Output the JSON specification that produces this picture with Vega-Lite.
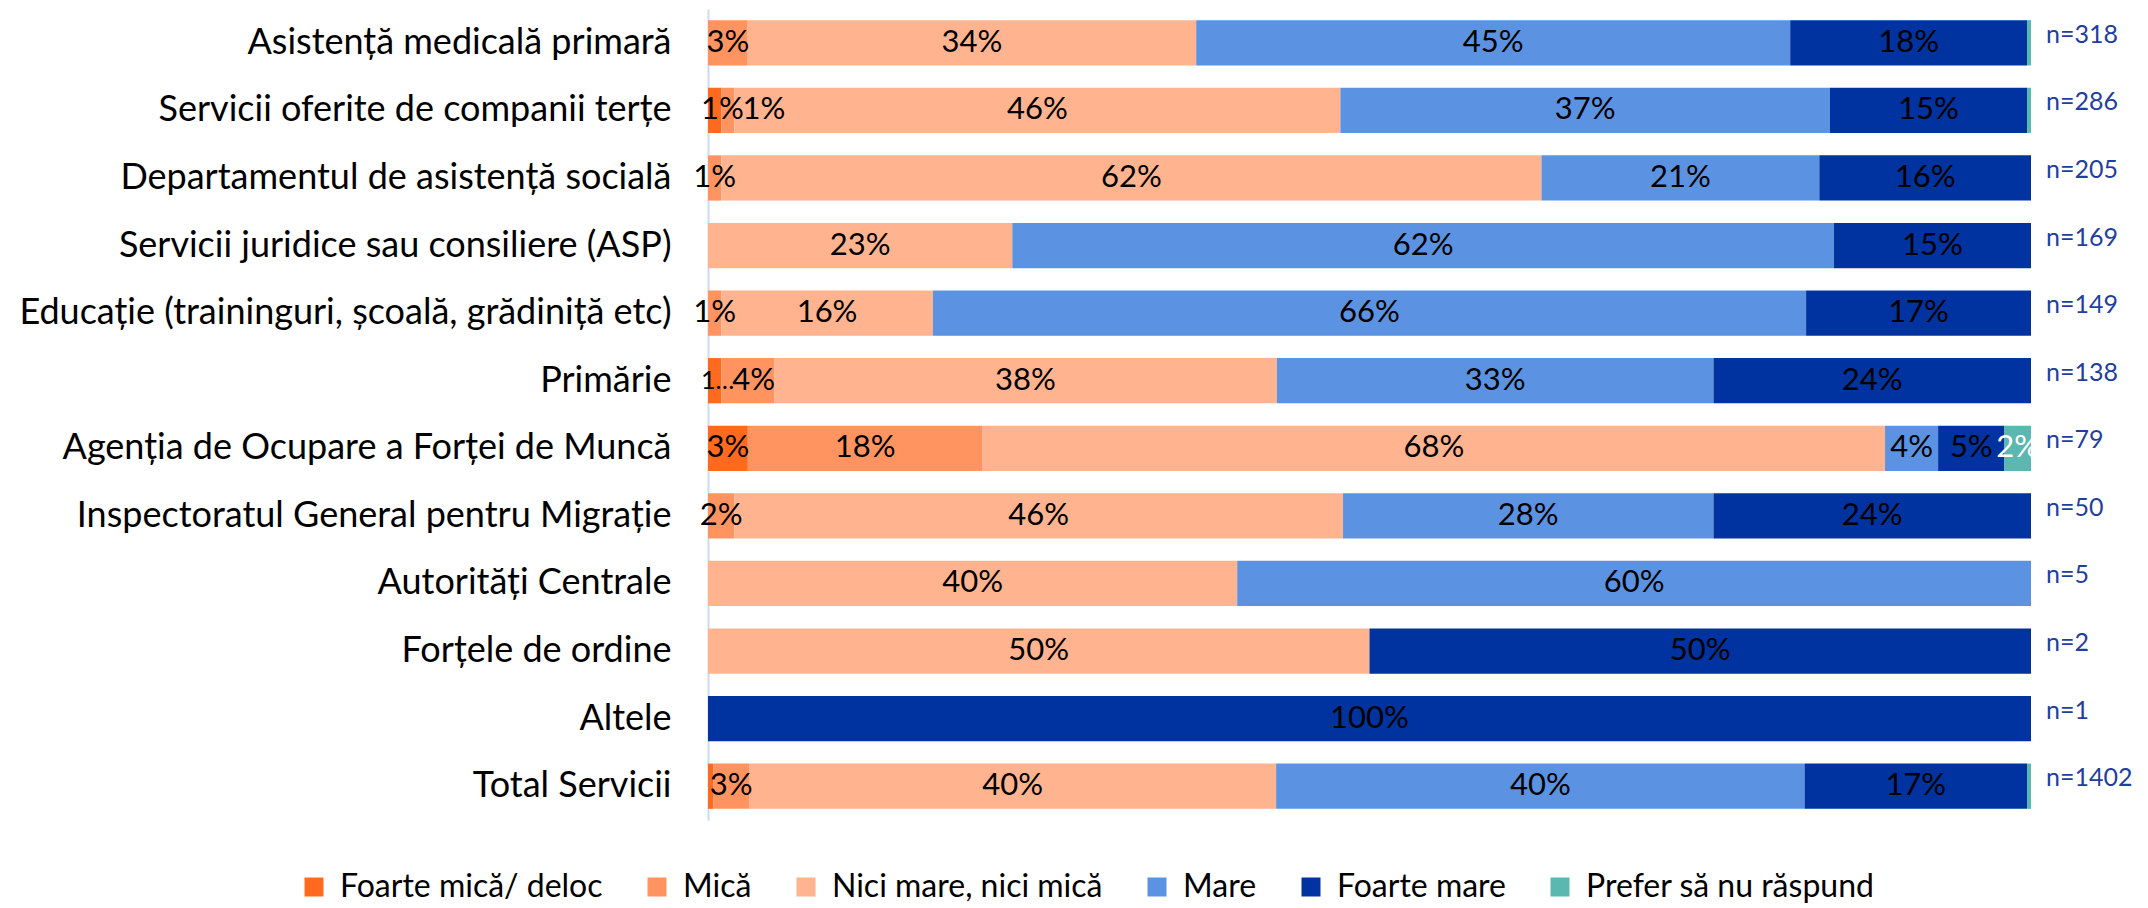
{
  "$schema": "https://vega.github.io/schema/vega-lite/v6.json",
  "width": 1323,
  "height": 811,
  "autosize": {"type": "none"},
  "padding": {"left": 708, "top": 9, "right": 117, "bottom": 88},
  "config": {
    "view": {"stroke": null},
    "font": "Lato",
    "text": {"font": "Lato"}
  },
  "datasets": {
    "bars": [
      {"cat": "Asistență medicală primară", "resp": "Mică", "p": 0.030},
      {"cat": "Asistență medicală primară", "resp": "Nici mare, nici mică", "p": 0.339},
      {"cat": "Asistență medicală primară", "resp": "Mare", "p": 0.449},
      {"cat": "Asistență medicală primară", "resp": "Foarte mare", "p": 0.179},
      {"cat": "Asistență medicală primară", "resp": "Prefer să nu răspund", "p": 0.003},

      {"cat": "Servicii oferite de companii terțe", "resp": "Foarte mică/ deloc", "p": 0.010},
      {"cat": "Servicii oferite de companii terțe", "resp": "Mică", "p": 0.010},
      {"cat": "Servicii oferite de companii terțe", "resp": "Nici mare, nici mică", "p": 0.458},
      {"cat": "Servicii oferite de companii terțe", "resp": "Mare", "p": 0.370},
      {"cat": "Servicii oferite de companii terțe", "resp": "Foarte mare", "p": 0.149},
      {"cat": "Servicii oferite de companii terțe", "resp": "Prefer să nu răspund", "p": 0.003},

      {"cat": "Departamentul de asistență socială", "resp": "Mică", "p": 0.010},
      {"cat": "Departamentul de asistență socială", "resp": "Nici mare, nici mică", "p": 0.620},
      {"cat": "Departamentul de asistență socială", "resp": "Mare", "p": 0.210},
      {"cat": "Departamentul de asistență socială", "resp": "Foarte mare", "p": 0.160},

      {"cat": "Servicii juridice sau consiliere (ASP)", "resp": "Nici mare, nici mică", "p": 0.230},
      {"cat": "Servicii juridice sau consiliere (ASP)", "resp": "Mare", "p": 0.621},
      {"cat": "Servicii juridice sau consiliere (ASP)", "resp": "Foarte mare", "p": 0.149},

      {"cat": "Educație (traininguri, școală, grădiniță etc)", "resp": "Mică", "p": 0.010},
      {"cat": "Educație (traininguri, școală, grădiniță etc)", "resp": "Nici mare, nici mică", "p": 0.160},
      {"cat": "Educație (traininguri, școală, grădiniță etc)", "resp": "Mare", "p": 0.660},
      {"cat": "Educație (traininguri, școală, grădiniță etc)", "resp": "Foarte mare", "p": 0.170},

      {"cat": "Primărie", "resp": "Foarte mică/ deloc", "p": 0.010},
      {"cat": "Primărie", "resp": "Mică", "p": 0.040},
      {"cat": "Primărie", "resp": "Nici mare, nici mică", "p": 0.380},
      {"cat": "Primărie", "resp": "Mare", "p": 0.330},
      {"cat": "Primărie", "resp": "Foarte mare", "p": 0.240},

      {"cat": "Agenția de Ocupare a Forței de Muncă", "resp": "Foarte mică/ deloc", "p": 0.030},
      {"cat": "Agenția de Ocupare a Forței de Muncă", "resp": "Mică", "p": 0.177},
      {"cat": "Agenția de Ocupare a Forței de Muncă", "resp": "Nici mare, nici mică", "p": 0.680},
      {"cat": "Agenția de Ocupare a Forței de Muncă", "resp": "Mare", "p": 0.040},
      {"cat": "Agenția de Ocupare a Forței de Muncă", "resp": "Foarte mare", "p": 0.050},
      {"cat": "Agenția de Ocupare a Forței de Muncă", "resp": "Prefer să nu răspund", "p": 0.020},

      {"cat": "Inspectoratul General pentru Migrație", "resp": "Mică", "p": 0.020},
      {"cat": "Inspectoratul General pentru Migrație", "resp": "Nici mare, nici mică", "p": 0.460},
      {"cat": "Inspectoratul General pentru Migrație", "resp": "Mare", "p": 0.280},
      {"cat": "Inspectoratul General pentru Migrație", "resp": "Foarte mare", "p": 0.240},

      {"cat": "Autorități Centrale", "resp": "Nici mare, nici mică", "p": 0.400},
      {"cat": "Autorități Centrale", "resp": "Mare", "p": 0.600},

      {"cat": "Forțele de ordine", "resp": "Nici mare, nici mică", "p": 0.500},
      {"cat": "Forțele de ordine", "resp": "Foarte mare", "p": 0.500},

      {"cat": "Altele", "resp": "Foarte mare", "p": 1.000},

      {"cat": "Total Servicii", "resp": "Foarte mică/ deloc", "p": 0.004},
      {"cat": "Total Servicii", "resp": "Mică", "p": 0.027},
      {"cat": "Total Servicii", "resp": "Nici mare, nici mică", "p": 0.398},
      {"cat": "Total Servicii", "resp": "Mare", "p": 0.399},
      {"cat": "Total Servicii", "resp": "Foarte mare", "p": 0.168},
      {"cat": "Total Servicii", "resp": "Prefer să nu răspund", "p": 0.003}
    ],
    "ns": [
      {"cat": "Asistență medicală primară", "n": "n=318"},
      {"cat": "Servicii oferite de companii terțe", "n": "n=286"},
      {"cat": "Departamentul de asistență socială", "n": "n=205"},
      {"cat": "Servicii juridice sau consiliere (ASP)", "n": "n=169"},
      {"cat": "Educație (traininguri, școală, grădiniță etc)", "n": "n=149"},
      {"cat": "Primărie", "n": "n=138"},
      {"cat": "Agenția de Ocupare a Forței de Muncă", "n": "n=79"},
      {"cat": "Inspectoratul General pentru Migrație", "n": "n=50"},
      {"cat": "Autorități Centrale", "n": "n=5"},
      {"cat": "Forțele de ordine", "n": "n=2"},
      {"cat": "Altele", "n": "n=1"},
      {"cat": "Total Servicii", "n": "n=1402"}
    ]
  },
  "encoding": {
    "y": {
      "field": "cat",
      "type": "nominal",
      "title": null,
      "scale": {
        "domain": [
          "Asistență medicală primară",
          "Servicii oferite de companii terțe",
          "Departamentul de asistență socială",
          "Servicii juridice sau consiliere (ASP)",
          "Educație (traininguri, școală, grădiniță etc)",
          "Primărie",
          "Agenția de Ocupare a Forței de Muncă",
          "Inspectoratul General pentru Migrație",
          "Autorități Centrale",
          "Forțele de ordine",
          "Altele",
          "Total Servicii"
        ],
        "paddingInner": 0.33,
        "paddingOuter": 0.165
      },
      "axis": {
        "ticks": false,
        "labelPadding": 37,
        "labelFontSize": 36,
        "labelFont": "Lato",
        "labelColor": "#000000",
        "labelLimit": 0,
        "domainColor": "#C9DBF5",
        "domainWidth": 2
      }
    }
  },
  "layer": [
    {
      "data": {"name": "bars"},
      "transform": [
        {"calculate": "indexof(['Foarte mică/ deloc','Mică','Nici mare, nici mică','Mare','Foarte mare','Prefer să nu răspund'], datum.resp)", "as": "ord"},
        {"stack": "p", "groupby": ["cat"], "sort": [{"field": "ord", "order": "ascending"}], "offset": "normalize", "as": ["x0", "x1"]}
      ],
      "layer": [
        {
          "mark": {"type": "bar"},
          "encoding": {
            "x": {"field": "x0", "type": "quantitative", "scale": {"domain": [0, 1], "nice": false, "zero": false}, "axis": null},
            "x2": {"field": "x1"},
            "color": {
              "field": "resp",
              "type": "nominal",
              "scale": {
                "domain": ["Foarte mică/ deloc", "Mică", "Nici mare, nici mică", "Mare", "Foarte mare", "Prefer să nu răspund"],
                "range": ["#FF6A1F", "#FF9460", "#FFB38F", "#5B93E2", "#00339F", "#5BB8B0"]
              },
              "legend": {
                "title": null,
                "orient": "none",
                "direction": "horizontal",
                "legendX": -410,
                "legendY": 862,
                "symbolType": "square",
                "symbolSize": 361,
                "symbolStrokeWidth": 0,
                "labelFontSize": 32,
                "labelFont": "Lato",
                "labelColor": "#000000",
                "labelOffset": 10,
                "columnPadding": 38,
                "labelLimit": 0
              }
            }
          }
        },
        {
          "transform": [
            {"filter": "datum.p >= 0.009 && !(datum.resp === 'Foarte mică/ deloc' && datum.p < 0.015) && !(datum.resp === 'Mică' && datum.p < 0.1 && datum.x0 > 0.001 && !(datum.x0 < 0.009 && datum.p >= 0.015))"},
            {"calculate": "(datum.x0 + datum.x1) / 2", "as": "xm"}
          ],
          "mark": {"type": "text", "fontSize": 31, "font": "Lato", "baseline": "middle", "align": "center"},
          "encoding": {
            "x": {"field": "xm", "type": "quantitative"},
            "text": {"field": "p", "type": "quantitative", "format": ".0%"},
            "color": {
              "condition": {"test": "datum.resp === 'Prefer să nu răspund'", "value": "#FFFFFF"},
              "value": "#000000"
            }
          }
        },
        {
          "transform": [
            {"filter": "datum.resp === 'Mică' && datum.p >= 0.015 && datum.p < 0.1 && datum.x0 >= 0.009"},
            {"calculate": "(datum.x0 + datum.x1) / 2", "as": "xm"}
          ],
          "mark": {"type": "text", "fontSize": 31, "font": "Lato", "baseline": "middle", "align": "center", "dx": 6, "color": "#000000"},
          "encoding": {
            "x": {"field": "xm", "type": "quantitative"},
            "text": {"field": "p", "type": "quantitative", "format": ".0%"}
          }
        },
        {
          "transform": [
            {"filter": "datum.resp === 'Foarte mică/ deloc' && datum.p >= 0.009 && datum.p < 0.015"}
          ],
          "mark": {"type": "text", "font": "Lato", "baseline": "middle", "align": "left", "dx": -7, "color": "#000000"},
          "encoding": {
            "x": {"field": "x0", "type": "quantitative"},
            "size": {
              "condition": {"test": "datum.cat === 'Primărie'", "value": 25},
              "value": 31
            },
            "text": {
              "condition": {"test": "datum.cat === 'Primărie'", "value": "1…"},
              "field": "p", "type": "quantitative", "format": ".0%"
            }
          }
        },
        {
          "transform": [
            {"filter": "datum.resp === 'Mică' && datum.p >= 0.009 && datum.p < 0.015 && datum.x0 > 0.001"}
          ],
          "mark": {"type": "text", "fontSize": 31, "font": "Lato", "baseline": "middle", "align": "left", "dx": 8, "color": "#000000"},
          "encoding": {
            "x": {"field": "x1", "type": "quantitative"},
            "text": {"field": "p", "type": "quantitative", "format": ".0%"}
          }
        }
      ]
    },
    {
      "data": {"name": "ns"},
      "mark": {"type": "text", "fontSize": 25, "font": "Lato", "align": "left", "baseline": "middle", "dx": 15, "dy": -8, "color": "#1F3FA0"},
      "encoding": {
        "x": {"datum": 1, "type": "quantitative"},
        "text": {"field": "n", "type": "nominal"}
      }
    }
  ]
}
